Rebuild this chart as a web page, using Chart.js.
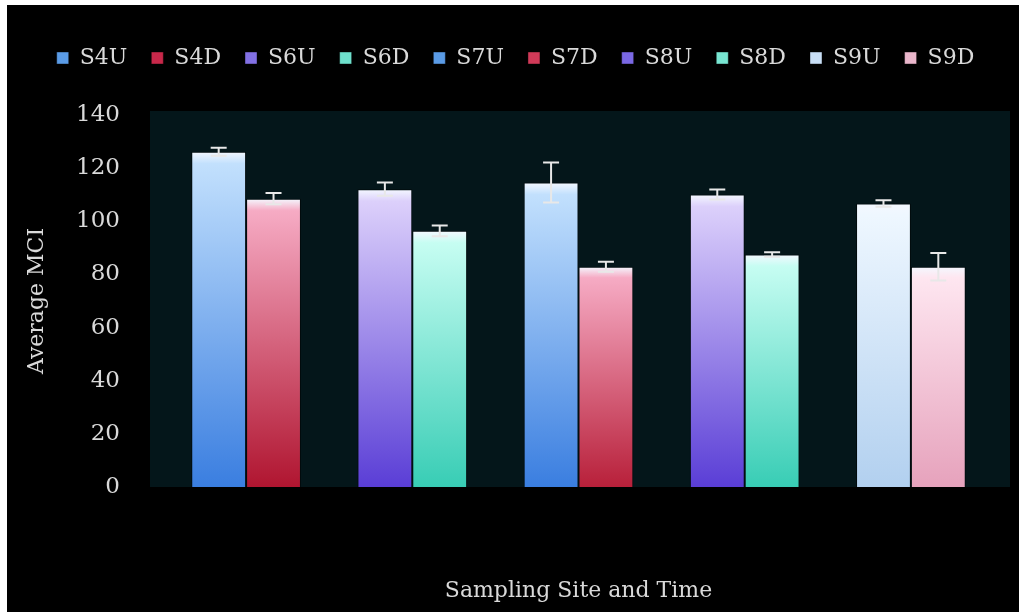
<!DOCTYPE html>
<html>
<head>
<meta charset="utf-8">
<script src="https://cdn.jsdelivr.net/npm/chart.js@4.4.1/dist/chart.umd.min.js"></script>
<style>
  html, body { margin: 0; padding: 0; background: #fff; }
  #wrap { position: absolute; left: 7px; top: 5px; width: 1012px; height: 607px; background: #000; }
</style>
</head>
<body>
<div id="wrap"><canvas id="myChart" width="1012" height="607"></canvas></div>
<script>
// sites on the x axis (labels are not shown in the original)
const sites = ['S4', 'S6', 'S7', 'S8', 'S9'];
const seriesNames = ['S4U', 'S4D', 'S6U', 'S6D', 'S7U', 'S7D', 'S8U', 'S8D', 'S9U', 'S9D'];
// average MCI per series, and its error bar (+/-)
const mciValues = [126.2, 108.5, 112.1, 96.4, 114.6, 82.9, 110.1, 87.5, 106.7, 82.9];
const mciErrors = [1.5, 2.1, 2.5, 2.0, 7.5, 1.9, 1.9, 0.8, 1.2, 5.2];
const yTicks = [0, 20, 40, 60, 80, 100, 120, 140];

// colours: top of bar, bottom of bar, legend swatch
const topColors = ['#c2e0fd', '#f6abc4', '#dcd0fb', '#c6fdf2', '#c2e0fd', '#f6abc4', '#dcd0fb', '#c6fdf2', '#eef7ff', '#fee6f0'];
const bottomColors = ['#3a7ee0', '#b01530', '#5a3ed6', '#38cdb5', '#3a7ee0', '#b8203a', '#5a3ed6', '#38cdb5', '#b2d0ef', '#e6a2bc'];
const legendColors = ['#5a9be6', '#c8284a', '#8270e4', '#6ee0cc', '#5a9be6', '#d03a58', '#7a68e4', '#78e6d2', '#c8def5', '#eab6cb'];

const textColor = '#d9d9d9';
const serif = 'DejaVu Serif';

const barGradient = (i) => (ctx) => {
  const chart = ctx.chart;
  if (!chart.chartArea || ctx.raw == null || !chart.scales.y) return bottomColors[i];
  const y = chart.scales.y;
  const yTop = y.getPixelForValue(ctx.raw);
  const yBase = y.getPixelForValue(0);
  const g = chart.ctx.createLinearGradient(0, yTop, 0, yBase);
  g.addColorStop(0, '#f4f8ff');
  g.addColorStop(Math.min(0.05, 12 / (yBase - yTop)), topColors[i]);
  g.addColorStop(1, bottomColors[i]);
  return g;
};

// one dataset per series, placed only under its own site
const datasets = seriesNames.map((name, i) => {
  const data = sites.map(() => null);
  data[Math.floor(i / 2)] = mciValues[i];
  return {
    label: name,
    data: data,
    backgroundColor: barGradient(i),
    borderColor: 'rgba(0,0,0,0.55)',
    borderWidth: 1,
    skipNull: true,
    categoryPercentage: 0.66,
    barPercentage: 1.0
  };
});

const plotBackground = {
  id: 'plotBackground',
  beforeDraw(chart) {
    const { ctx, chartArea } = chart;
    ctx.save();
    ctx.fillStyle = '#04161a';
    ctx.fillRect(chartArea.left - 13, chartArea.top - 4, chartArea.width + 29, chartArea.height + 4);
    ctx.restore();
  }
};

const errorBars = {
  id: 'errorBars',
  afterDatasetsDraw(chart) {
    const { ctx } = chart;
    const y = chart.scales.y;
    ctx.save();
    ctx.strokeStyle = '#e8e8e8';
    ctx.lineWidth = 2;
    chart.data.datasets.forEach((ds, i) => {
      const meta = chart.getDatasetMeta(i);
      const idx = Math.floor(i / 2);
      const bar = meta.data[idx];
      if (!bar) return;
      const hi = y.getPixelForValue(mciValues[i] + mciErrors[i]);
      const lo = y.getPixelForValue(mciValues[i] - mciErrors[i]);
      ctx.beginPath();
      ctx.moveTo(bar.x, hi); ctx.lineTo(bar.x, lo);
      ctx.moveTo(bar.x - 8, hi); ctx.lineTo(bar.x + 8, hi);
      ctx.moveTo(bar.x - 8, lo); ctx.lineTo(bar.x + 8, lo);
      ctx.stroke();
    });
    ctx.restore();
  }
};

// extra room under the legend, and nudge it a little to the right
const legendGap = {
  id: 'legendGap',
  beforeInit(chart) {
    const fit = chart.legend.fit;
    chart.legend.fit = function () {
      fit.call(this);
      this.height += 36;
    };
  },
  afterLayout(chart) {
    chart.legend.left += 15;
    chart.legend.right += 15;
  }
};

const ctx = document.getElementById('myChart').getContext('2d');
const myChart = new Chart(ctx, {
  type: 'bar',
  data: { labels: sites, datasets: datasets },
  options: {
    responsive: false,
    animation: false,
    layout: { padding: { top: 18, right: 25, left: 0, bottom: 0 } },
    plugins: {
      legend: {
        position: 'top',
        labels: {
          color: textColor,
          font: { family: serif, size: 22 },
          boxWidth: 12,
          boxHeight: 12,
          padding: 24,
          generateLabels: (chart) => seriesNames.map((name, i) => ({
            text: name,
            fillStyle: legendColors[i],
            strokeStyle: 'rgba(0,0,0,0.4)',
            lineWidth: 1,
            fontColor: textColor,
            datasetIndex: i
          }))
        },
        onClick: null
      },
      tooltip: { enabled: false }
    },
    scales: {
      x: {
        grid: { display: false },
        border: { display: false },
        ticks: { display: false },
        title: {
          display: true,
          text: 'Sampling Site and Time',
          color: textColor,
          font: { family: serif, size: 22 },
          padding: { top: 0, bottom: 8 }
        },
        afterFit: (scale) => { scale.height = 125; }
      },
      y: {
        min: 0,
        max: 140,
        afterBuildTicks: (scale) => { scale.ticks = yTicks.map(v => ({ value: v })); },
        grid: { display: false, drawTicks: false },
        border: { display: false },
        ticks: {
          color: textColor,
          font: { family: serif, size: 23 },
          padding: 43
        },
        title: {
          display: true,
          text: 'Average MCI',
          color: textColor,
          font: { family: serif, size: 22 },
          padding: { top: 17, bottom: 0 }
        },
        afterFit: (scale) => { scale.width = 156; }
      }
    }
  },
  plugins: [plotBackground, errorBars, legendGap]
});
</script>
</body>
</html>
